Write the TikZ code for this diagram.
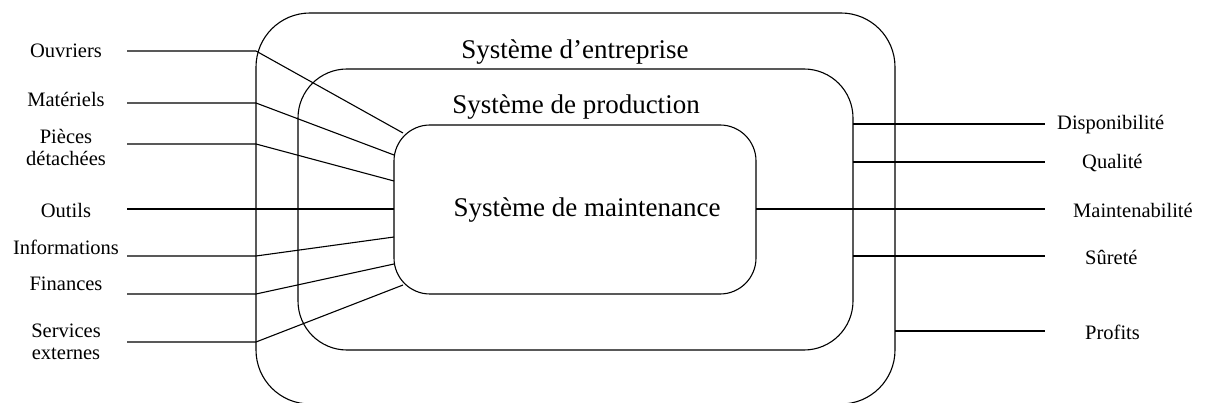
\documentclass[tikz,border=0pt]{standalone}
\usepackage{fontspec}
\setmainfont{Liberation Serif}
\usetikzlibrary{calc}
\begin{document}
\begin{tikzpicture}[x=1pt,y=-1pt,
  sysbox/.style={draw, line width=1.1pt, rounded corners=#1, inner sep=0pt, outer sep=0pt},
  title/.style={font=\fontsize{27}{30}\selectfont, inner sep=0pt},
  lab/.style={font=\fontsize{20.5}{22}\selectfont, align=center, inner sep=0pt},
  wire/.style={line width=1.1pt}]
\useasboundingbox (0,0) rectangle (1207,403);

% nested systems
\node[sysbox=54pt, minimum width=639pt, minimum height=391pt] (outer) at (575.5,208.5) {};
\node[sysbox=49pt, minimum width=555pt, minimum height=281pt] (middle) at (575.5,209.5) {};
\node[sysbox=36pt, minimum width=362pt, minimum height=169pt] (inner) at (575,209.5) {};

\node[title] (tent) at (575,52) {Système d’entreprise};
\node[title] (tprod) at (576,107) {Système de production};
\node[title] (tmaint) at (587,210) {Système de maintenance};

% inputs
\node[lab] (ouv) at (66,51) {Ouvriers};
\node[lab] (mat) at (66,99) {Matériels};
\node[lab] (pie) at (66,147) {Pièces\\détachées};
\node[lab] (out) at (66,210) {Outils};
\node[lab] (inf) at (66,247) {Informations};
\node[lab] (fin) at (66,284) {Finances};
\node[lab] (ser) at (66,341.5) {Services\\externes};

\coordinate (eouv) at (127,51);
\coordinate (emat) at (127,103);
\coordinate (epie) at (127,144);
\coordinate (eout) at (127,209);
\coordinate (einf) at (127,256);
\coordinate (efin) at (127,294);
\coordinate (eser) at (127,342);

\draw[wire] (eouv) -- (outer.west |- eouv) -- ($(inner.north west)+(9,8)$);
\draw[wire] (emat) -- (outer.west |- emat) -- (inner.west |- 0,155);
\draw[wire] (epie) -- (outer.west |- epie) -- (inner.west |- 0,181);
\draw[wire] (eout) -- (inner.west |- eout);
\draw[wire] (einf) -- (outer.west |- einf) -- (inner.west |- 0,237);
\draw[wire] (efin) -- (outer.west |- efin) -- (inner.west |- 0,264);
\draw[wire] (eser) -- (outer.west |- eser) -- ($(inner.south west)+(9,-9)$);

% outputs
\node[lab, anchor=west] (dis) at (1057,125) {Disponibilité};
\node[lab, anchor=west] (qua) at (1082,163) {Qualité};
\node[lab, anchor=west] (mai) at (1073,210) {Maintenabilité};
\node[lab, anchor=west] (sur) at (1085,257) {Sûreté};
\node[lab, anchor=west] (pro) at (1085,332) {Profits};

\coordinate (odis) at (1045,124);
\coordinate (oqua) at (1045,162);
\coordinate (omai) at (1045,209);
\coordinate (osur) at (1045,256);
\coordinate (opro) at (1045,331);

\draw[wire] (middle.east |- odis) -- (odis);
\draw[wire] (middle.east |- oqua) -- (oqua);
\draw[wire] (inner.east |- omai) -- (omai);
\draw[wire] (middle.east |- osur) -- (osur);
\draw[wire] (outer.east |- opro) -- (opro);
\end{tikzpicture}
\end{document}
